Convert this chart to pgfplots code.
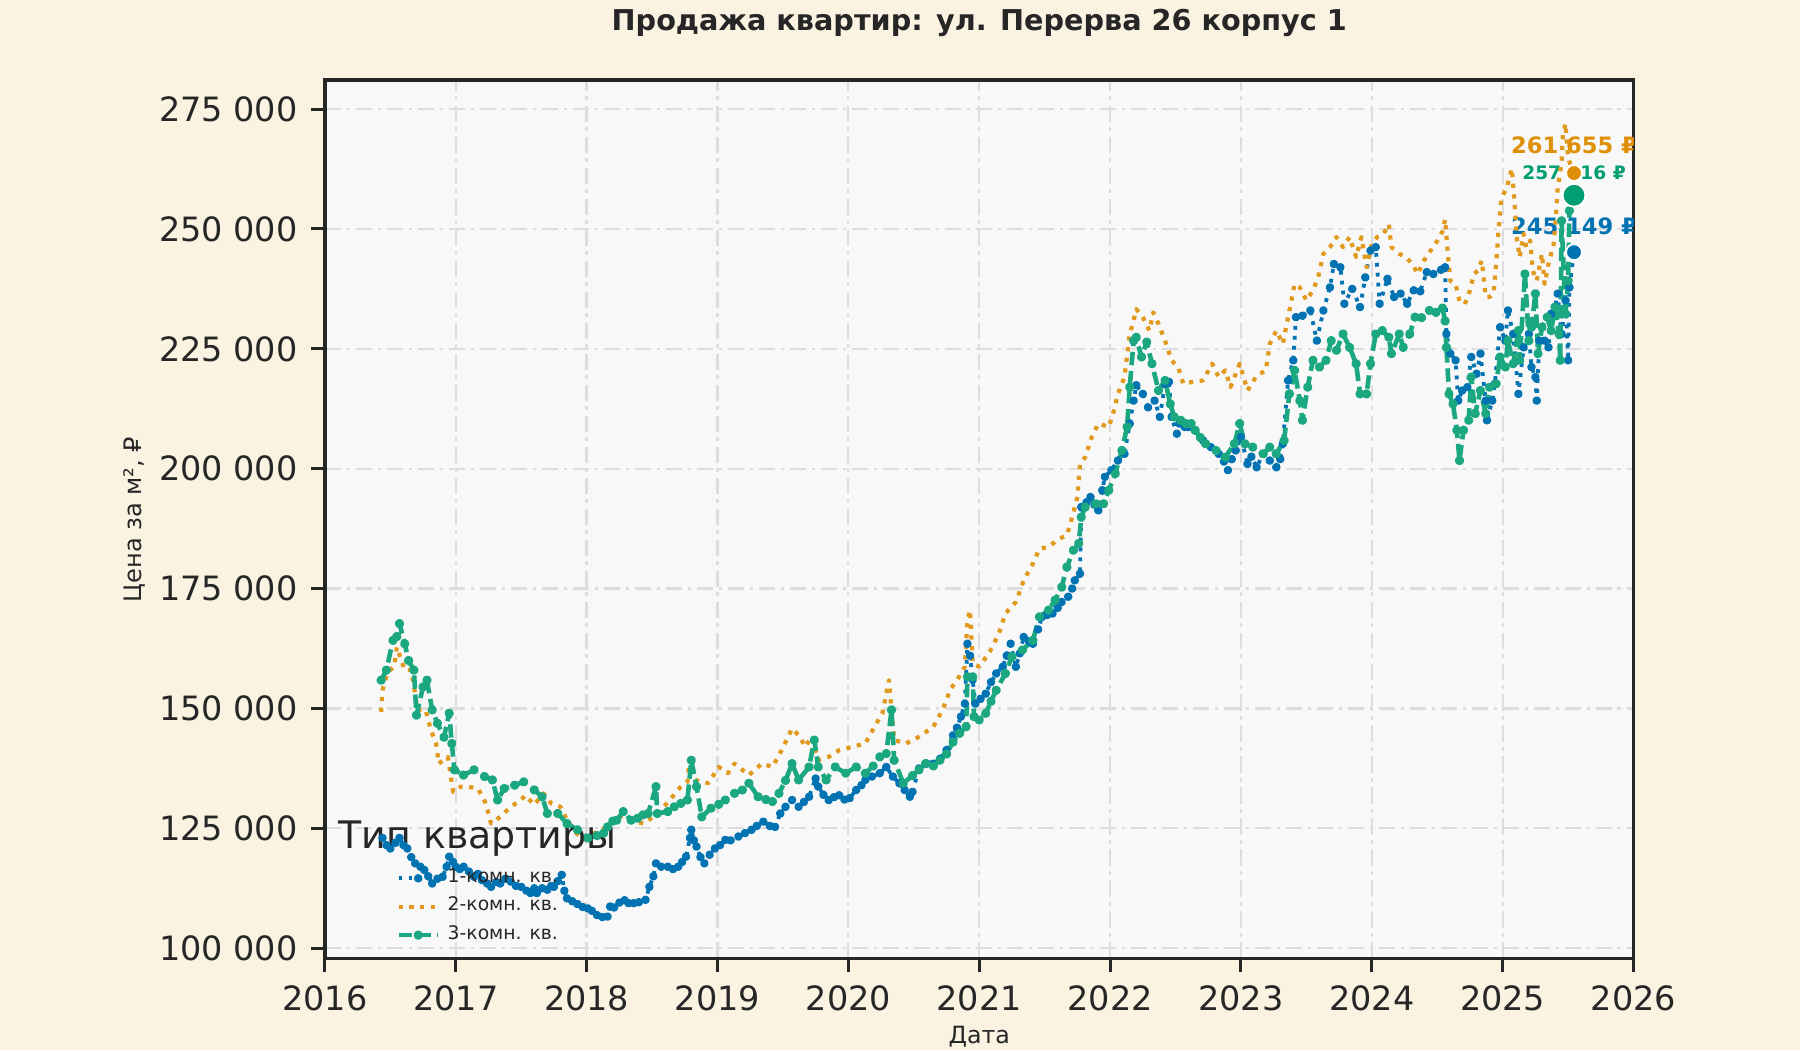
\documentclass[border=0pt]{standalone}
\usepackage{fontspec}
\setmainfont{DejaVu Sans}
\usepackage{pgfplots}
\pgfplotsset{compat=1.18}

\definecolor{bgcream}{HTML}{FAF3E1}
\definecolor{axbg}{HTML}{F8F8F8}
\definecolor{cblue}{HTML}{0173B2}
\definecolor{corange}{HTML}{DE8F05}
\definecolor{cgreen}{HTML}{029E73}
\definecolor{gridc}{HTML}{DDDDDD}
\definecolor{spine}{HTML}{262626}

% 1-комн. кв.
\pgfplotstableread{
x y
2016.44 123000
2016.47 121500
2016.50 120800
2016.54 122000
2016.57 123000
2016.60 121500
2016.63 120800
2016.66 119000
2016.69 117700
2016.73 117000
2016.76 116300
2016.79 115000
2016.82 113500
2016.86 114500
2016.90 114900
2016.93 117000
2016.95 119100
2016.98 118000
2017.00 117000
2017.03 116500
2017.06 117000
2017.10 116000
2017.14 114900
2017.17 115500
2017.20 114200
2017.24 113500
2017.27 112800
2017.31 113800
2017.34 113500
2017.38 114500
2017.42 113900
2017.46 113000
2017.50 112800
2017.54 112000
2017.57 111500
2017.60 112500
2017.62 111500
2017.66 112500
2017.70 112200
2017.73 113000
2017.75 112800
2017.78 114000
2017.81 115300
2017.83 112000
2017.85 110400
2017.89 109800
2017.93 109200
2017.97 108600
2018.01 108300
2018.04 107800
2018.08 106900
2018.12 106500
2018.16 106600
2018.18 108700
2018.21 108500
2018.25 109500
2018.29 110000
2018.32 109400
2018.36 109400
2018.40 109600
2018.45 110100
2018.48 112800
2018.51 115000
2018.53 117700
2018.57 117000
2018.62 117000
2018.66 116500
2018.70 117000
2018.73 118000
2018.76 119100
2018.79 123000
2018.80 124700
2018.82 122500
2018.84 121200
2018.87 119000
2018.90 117700
2018.94 119500
2018.98 120800
2019.02 121500
2019.06 122600
2019.10 122500
2019.16 123300
2019.21 124000
2019.26 124700
2019.30 125500
2019.35 126400
2019.40 125500
2019.44 125300
2019.48 128100
2019.52 129500
2019.57 130900
2019.62 129500
2019.66 130500
2019.70 131600
2019.75 135400
2019.77 133700
2019.81 132000
2019.85 130900
2019.89 131500
2019.93 131900
2019.97 131000
2020.01 131300
2020.06 133000
2020.10 134000
2020.13 135100
2020.18 135800
2020.24 136500
2020.29 137800
2020.34 135800
2020.39 134400
2020.43 133000
2020.47 131600
2020.49 132600
2020.54 137500
2020.60 138500
2020.65 138500
2020.70 139500
2020.75 141300
2020.80 144400
2020.83 146000
2020.86 148300
2020.89 151000
2020.91 163500
2020.93 161000
2020.95 156000
2020.97 151000
2021.01 152000
2021.05 153100
2021.09 155500
2021.13 157300
2021.18 158700
2021.21 161000
2021.24 163500
2021.28 158700
2021.31 161500
2021.34 164900
2021.38 164000
2021.41 163500
2021.45 166500
2021.48 169100
2021.52 169500
2021.56 169800
2021.60 171000
2021.63 172200
2021.68 173300
2021.71 175000
2021.73 176700
2021.77 178100
2021.78 192000
2021.82 193000
2021.85 194100
2021.88 192500
2021.91 191300
2021.94 195500
2021.96 198300
2022.01 199700
2022.06 201700
2022.11 203100
2022.15 209400
2022.18 214200
2022.20 217400
2022.25 215600
2022.29 212800
2022.34 214200
2022.38 210800
2022.42 217700
2022.45 218100
2022.47 210800
2022.51 207300
2022.53 209400
2022.57 208700
2022.60 208700
2022.65 208000
2022.71 205900
2022.77 204500
2022.83 203100
2022.87 201500
2022.90 199700
2022.93 202000
2022.96 203800
2023.00 206600
2023.05 201000
2023.08 202500
2023.12 200300
2023.17 203100
2023.22 201700
2023.27 200300
2023.30 202000
2023.32 205200
2023.36 218400
2023.40 222600
2023.42 231600
2023.47 231900
2023.53 233000
2023.58 226700
2023.63 233000
2023.68 237800
2023.71 242700
2023.76 242000
2023.79 234400
2023.85 237500
2023.91 233700
2023.95 239900
2023.99 245500
2024.03 246200
2024.06 234400
2024.12 239600
2024.17 235800
2024.22 236500
2024.27 234400
2024.32 237200
2024.37 237000
2024.42 241000
2024.47 240600
2024.53 241500
2024.56 242000
2024.57 228100
2024.60 224000
2024.64 222600
2024.66 214200
2024.69 216300
2024.73 217000
2024.76 223300
2024.80 219800
2024.83 224000
2024.87 214200
2024.88 210100
2024.92 214200
2024.94 217700
2024.98 229500
2025.02 226700
2025.04 233000
2025.08 228100
2025.12 215600
2025.16 225300
2025.20 228100
2025.22 221200
2025.25 219100
2025.26 214200
2025.28 226700
2025.32 226700
2025.35 225300
2025.37 232300
2025.40 233700
2025.42 236500
2025.45 228100
2025.48 235100
2025.50 222600
2025.51 237800
2025.545 245149
}\oneroom

% 2-комн. кв.
\pgfplotstableread{
x y
2016.43 149300
2016.44 153800
2016.48 157600
2016.53 158700
2016.55 162800
2016.58 160400
2016.61 158000
2016.66 158000
2016.71 149700
2016.77 149700
2016.81 145500
2016.85 142700
2016.87 138500
2016.94 139900
2016.98 132600
2017.04 133700
2017.09 133700
2017.17 133300
2017.23 130200
2017.27 126000
2017.34 127400
2017.42 129500
2017.50 130900
2017.53 131900
2017.60 129900
2017.67 132300
2017.73 130200
2017.80 129500
2017.85 126700
2017.92 124000
2017.98 122600
2018.06 124000
2018.16 125300
2018.26 127600
2018.36 126400
2018.44 126000
2018.54 128100
2018.62 130400
2018.72 133700
2018.77 134700
2018.79 140300
2018.83 135100
2018.93 134400
2019.01 137800
2019.08 136500
2019.13 138500
2019.24 136100
2019.34 138500
2019.42 137800
2019.49 141300
2019.57 145800
2019.63 144100
2019.67 142000
2019.72 144100
2019.77 139200
2019.85 139900
2019.93 141300
2020.03 142000
2020.13 142700
2020.20 146200
2020.26 149000
2020.31 155900
2020.35 143400
2020.44 142700
2020.54 144100
2020.65 146200
2020.72 149700
2020.78 154000
2020.83 155900
2020.89 158700
2020.91 168400
2020.93 170500
2020.95 159400
2021.00 158700
2021.08 161800
2021.15 165600
2021.20 169800
2021.28 172200
2021.34 176700
2021.41 180200
2021.46 183300
2021.53 183700
2021.61 185400
2021.67 186100
2021.71 189900
2021.75 194100
2021.77 201000
2021.81 202400
2021.86 206600
2021.91 209400
2021.99 208700
2022.03 212200
2022.06 215600
2022.11 219100
2022.15 228100
2022.18 230900
2022.20 233300
2022.25 231600
2022.30 228800
2022.33 232600
2022.37 230200
2022.42 226700
2022.47 222600
2022.52 221200
2022.56 217700
2022.63 218100
2022.71 218400
2022.78 221900
2022.83 219100
2022.88 220500
2022.92 217000
2022.99 221900
2023.05 216300
2023.12 219400
2023.19 220500
2023.22 226000
2023.27 228800
2023.32 226000
2023.36 231600
2023.41 238500
2023.45 237800
2023.50 235100
2023.55 237200
2023.59 239900
2023.63 244800
2023.68 246200
2023.73 248300
2023.78 246200
2023.83 248300
2023.88 244100
2023.92 248300
2023.96 242000
2024.00 246900
2024.04 248300
2024.09 249000
2024.13 251000
2024.15 246200
2024.21 244800
2024.26 244100
2024.31 242700
2024.35 240600
2024.40 243500
2024.45 245500
2024.50 247500
2024.54 249500
2024.56 252000
2024.58 245000
2024.60 239200
2024.64 238500
2024.67 235000
2024.71 234300
2024.75 237200
2024.78 240600
2024.81 241300
2024.84 243400
2024.87 235800
2024.90 235800
2024.93 236500
2024.95 242700
2024.97 250300
2024.99 256400
2025.03 258500
2025.07 262600
2025.09 255700
2025.11 247600
2025.13 244100
2025.16 249000
2025.18 246200
2025.21 247600
2025.23 241300
2025.26 239200
2025.30 244800
2025.32 238500
2025.35 242700
2025.39 246900
2025.41 253800
2025.42 258500
2025.45 264000
2025.46 269600
2025.48 272000
2025.50 264700
2025.53 262600
2025.545 261655
}\tworoom

% 3-комн. кв.
\pgfplotstableread{
x y
2016.43 155900
2016.47 158000
2016.52 164200
2016.55 165000
2016.57 167700
2016.61 163500
2016.64 160000
2016.68 158000
2016.70 148600
2016.75 154500
2016.78 155900
2016.82 149700
2016.86 146900
2016.91 144000
2016.95 149000
2016.97 142700
2016.99 137200
2017.06 136100
2017.14 137200
2017.22 135800
2017.28 135100
2017.32 130900
2017.37 133300
2017.45 134000
2017.52 134700
2017.60 133000
2017.66 131600
2017.70 128100
2017.78 128100
2017.85 126000
2017.93 124700
2018.01 123000
2018.08 123500
2018.13 124000
2018.16 125300
2018.20 126500
2018.23 126700
2018.28 128500
2018.34 126700
2018.39 127100
2018.43 127800
2018.47 128100
2018.53 133700
2018.54 128100
2018.62 128500
2018.67 129500
2018.72 130200
2018.77 130900
2018.80 139200
2018.84 133700
2018.88 127400
2018.95 129200
2019.01 130000
2019.06 130900
2019.13 132300
2019.19 133000
2019.24 134400
2019.31 131600
2019.37 131000
2019.42 130600
2019.47 132300
2019.52 135000
2019.57 138500
2019.62 135100
2019.70 137800
2019.74 143400
2019.77 137800
2019.83 135100
2019.90 137800
2019.98 136500
2020.06 137800
2020.13 136500
2020.19 138000
2020.24 139900
2020.29 140600
2020.33 149700
2020.35 139200
2020.42 134400
2020.49 136000
2020.54 137200
2020.59 138500
2020.65 138000
2020.70 139200
2020.75 140500
2020.80 143000
2020.85 144800
2020.90 146200
2020.91 156600
2020.95 156600
2020.96 148300
2021.00 147600
2021.05 149000
2021.09 151500
2021.13 153800
2021.20 157300
2021.25 160800
2021.33 162200
2021.41 164200
2021.46 169100
2021.53 170500
2021.58 172600
2021.63 175300
2021.67 179500
2021.72 183000
2021.76 184400
2021.78 189900
2021.81 192000
2021.89 192700
2021.95 192700
2021.99 195500
2022.04 199000
2022.09 203800
2022.13 208700
2022.15 217000
2022.18 226700
2022.20 227400
2022.24 223300
2022.28 226400
2022.32 221900
2022.37 216300
2022.42 218400
2022.46 213500
2022.49 210800
2022.54 210100
2022.58 209400
2022.62 209400
2022.65 208000
2022.69 206500
2022.73 205200
2022.81 203800
2022.88 202400
2022.95 205200
2022.99 209400
2023.03 205200
2023.09 204500
2023.17 203100
2023.22 204500
2023.27 203100
2023.33 205900
2023.37 215600
2023.41 220500
2023.45 214200
2023.47 210100
2023.51 217000
2023.55 222600
2023.60 221200
2023.65 222600
2023.69 226700
2023.73 224700
2023.78 228100
2023.83 225300
2023.88 221900
2023.91 215600
2023.96 215600
2023.99 221900
2024.03 228100
2024.08 228800
2024.13 227400
2024.15 224000
2024.21 228100
2024.24 225300
2024.29 228100
2024.33 231600
2024.38 231500
2024.44 233000
2024.49 232600
2024.54 233500
2024.56 230800
2024.57 225300
2024.59 215600
2024.62 213500
2024.65 208000
2024.67 201700
2024.70 208000
2024.74 210100
2024.76 219100
2024.79 211500
2024.83 216300
2024.87 211500
2024.90 217000
2024.95 217700
2024.98 223300
2025.02 221200
2025.04 226700
2025.08 221900
2025.12 228800
2025.13 222600
2025.17 240600
2025.20 226700
2025.22 229500
2025.25 236500
2025.27 224000
2025.30 229500
2025.34 231600
2025.37 228800
2025.40 233700
2025.43 228100
2025.44 222600
2025.45 251700
2025.48 232300
2025.50 239200
2025.51 253800
2025.545 257016
}\threeroom

\begin{document}
\begin{tikzpicture}
\path[use as bounding box, fill=bgcream] (-84.9pt,-24pt) rectangle (385.5pt,250.5pt);
\begin{axis}[
  at={(0,0)}, anchor=south west,
  scale only axis, width=342pt, height=229.5pt,
  xmin=2016, xmax=2026, ymin=97850, ymax=280990,
  axis background/.style={fill=axbg},
  axis line style={spine, line width=1pt},
  xtick={2016,2017,2018,2019,2020,2021,2022,2023,2024,2025,2026},
  ytick={100000,125000,150000,175000,200000,225000,250000,275000},
  scaled y ticks=false,
  xtick pos=bottom, ytick pos=left,
  tick align=outside, major tick length=3.6pt,
  every tick/.style={spine, line width=0.8pt},
  grid=major,
  grid style={gridc, line width=0.6pt, dash pattern=on 4.2pt off 1.5pt on 0.9pt off 1.5pt},
  /pgf/number format/assume math mode=true,
  tick label style={font=\fontsize{8.75}{10}\selectfont, text=spine},
  x tick label style={/pgf/number format/1000 sep={}},
  y tick label style={/pgf/number format/.cd, fixed, precision=0, 1000 sep={\ }},
  title={Продажа квартир: ул. Перерва 26 корпус 1},
  every axis title shift=0pt,
  title style={at={(axis description cs:0.5,1.0654)}, anchor=center, yshift=0pt, font=\bfseries\fontsize{7.5}{9}\selectfont, text=spine},
  xlabel={Дата},
  xlabel style={at={(axis description cs:0.5,-0.0889)}, anchor=center, font=\fontsize{6.2}{7}\selectfont, text=spine},
  ylabel={Цена за м², ₽},
  ylabel style={at={(axis description cs:-0.1456,0.5)}, anchor=center, font=\fontsize{6.3}{7}\selectfont, text=spine},
  legend style={at={(axis description cs:0.054,0.112)}, anchor=north west, draw=none, fill=none,
    font=\fontsize{4.9}{6}\selectfont, text=spine, row sep=-1.7pt, inner sep=0pt},
  legend cell align=left,
  legend image code/.code={\draw[mark repeat=2,mark phase=2,#1] plot coordinates {(0cm,0cm)(0.18cm,0cm)(0.36cm,0cm)};},
]

\node[font=\bfseries\fontsize{5.9}{7}\selectfont, text=corange, yshift=7.2pt] at (axis cs:2025.545,261655) {261 655 ₽};
\node[font=\bfseries\fontsize{4.85}{6}\selectfont, text=cgreen, yshift=6pt] at (axis cs:2025.545,257016) {257 016 ₽};
\node[font=\bfseries\fontsize{5.9}{7}\selectfont, text=cblue, yshift=6.9pt] at (axis cs:2025.545,245149) {245 149 ₽};

\addplot[cblue, line width=1pt, line join=round, dash pattern=on 1pt off 1.6pt,
  mark=*, mark size=0.6pt, mark options={solid, fill=cblue, draw=none}] table {\oneroom};
\addlegendentry{1-комн. кв.}

\addplot[corange!90!white, line width=1.1pt, line join=round, dash pattern=on 1.1pt off 1.7pt] table {\tworoom};
\addlegendentry{2-комн. кв.}

\addplot[cgreen!90!white, line width=1.2pt, line join=round, dash pattern=on 3.5pt off 1.5pt,
  mark=*, mark size=0.6pt, mark options={solid, fill=cgreen, draw=none}] table {\threeroom};
\addlegendentry{3-комн. кв.}

\addplot[only marks, mark=*, mark size=2.1pt, mark options={fill=corange, draw=white, line width=0.5pt}, forget plot]
  coordinates {(2025.545,261655)};
\addplot[only marks, mark=*, mark size=3pt, mark options={fill=cgreen, draw=white, line width=0.5pt}, forget plot]
  coordinates {(2025.545,257016)};
\addplot[only marks, mark=*, mark size=2.1pt, mark options={fill=cblue, draw=white, line width=0.5pt}, forget plot]
  coordinates {(2025.545,245149)};

\node[font=\fontsize{9.9}{11}\selectfont, text=spine] at (rel axis cs:0.1167,0.137) {Тип квартиры};
\end{axis}
\end{tikzpicture}
\end{document}
